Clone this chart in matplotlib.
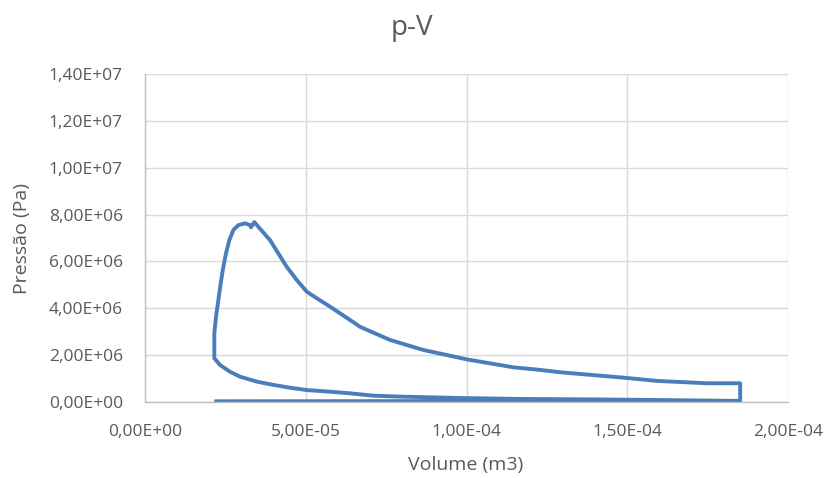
import matplotlib.pyplot as plt
from matplotlib.ticker import FuncFormatter, MultipleLocator

# cycle traced in order: compression -> combustion -> expansion -> blowdown -> exhaust
volume = [
    1.851e-4, 1.727e-4, 1.580e-4, 1.416e-4, 1.167e-4, 9.80e-5, 7.93e-5, 7.10e-5,
    6.378e-5, 5.756e-5, 5.031e-5, 4.511e-5, 3.992e-5, 3.475e-5, 2.956e-5,
    2.645e-5, 2.334e-5, 2.156e-5,
    2.156e-5, 2.209e-5, 2.281e-5, 2.355e-5, 2.436e-5, 2.520e-5, 2.623e-5,
    2.747e-5, 2.903e-5, 3.111e-5, 3.267e-5, 3.298e-5, 3.400e-5, 3.525e-5,
    3.889e-5, 4.409e-5, 4.720e-5, 5.031e-5, 5.342e-5, 5.756e-5, 6.378e-5,
    6.690e-5, 7.620e-5, 8.660e-5, 1.001e-4, 1.146e-4, 1.229e-4, 1.291e-4,
    1.333e-4, 1.488e-4, 1.592e-4, 1.748e-4, 1.851e-4,
    1.851e-4, 2.156e-5,
]
pressure = [
    0.04e6, 0.06e6, 0.085e6, 0.11e6, 0.13e6, 0.17e6, 0.23e6, 0.27e6,
    0.37e6, 0.44e6, 0.51e6, 0.61e6, 0.73e6, 0.87e6, 1.08e6,
    1.29e6, 1.58e6, 1.865e6,
    2.93e6, 3.64e6, 4.35e6, 5.07e6, 5.77e6, 6.35e6, 6.91e6,
    7.34e6, 7.55e6, 7.63e6, 7.55e6, 7.46e6, 7.68e6, 7.48e6,
    6.91e6, 5.77e6, 5.21e6, 4.71e6, 4.43e6, 4.07e6, 3.50e6,
    3.21e6, 2.65e6, 2.22e6, 1.82e6, 1.48e6, 1.37e6, 1.27e6,
    1.22e6, 1.04e6, 0.90e6, 0.80e6, 0.80e6,
    0.05e6, 0.03e6,
]

grey = "#595959"
plt.rcParams["font.family"] = ["Open Sans", "DejaVu Sans"]

fig = plt.figure(figsize=(8.29, 4.78), dpi=100)
ax = fig.add_axes([0.1749, 0.159, 0.7757, 0.686])

ax.plot(volume, pressure, color="#4a7ebb", linewidth=2.8,
        solid_joinstyle="round", solid_capstyle="butt")

ax.set_xlim(0, 2e-4)
ax.set_ylim(0, 1.4e7)
ax.xaxis.set_major_locator(MultipleLocator(5e-5))
ax.yaxis.set_major_locator(MultipleLocator(2e6))

sci = FuncFormatter(lambda v, pos: f"{v:.2E}".replace(".", ","))
ax.xaxis.set_major_formatter(sci)
ax.yaxis.set_major_formatter(sci)

ax.grid(True, color="#d9d9d9", linewidth=1.0)
ax.set_axisbelow(True)
for side in ["top", "right"]:
    ax.spines[side].set_visible(False)
for side in ["left", "bottom"]:
    ax.spines[side].set_color("#bfbfbf")
    ax.spines[side].set_linewidth(1.0)

ax.tick_params(length=0, labelsize=12.5, labelcolor=grey)
ax.tick_params(axis="x", pad=16)
ax.tick_params(axis="y", pad=16)

ax.set_xlabel("Volume (m3)", fontsize=14, color=grey, va="center")
ax.set_ylabel("Pressão (Pa)", fontsize=14, color=grey, va="center")
ax.xaxis.set_label_coords(0.499, -0.192)
ax.yaxis.set_label_coords(-0.191, 0.5)
fig.text(0.497, 0.942, "p-V", ha="center", va="center", fontsize=20, color=grey)

plt.savefig("out.png", dpi=100)
